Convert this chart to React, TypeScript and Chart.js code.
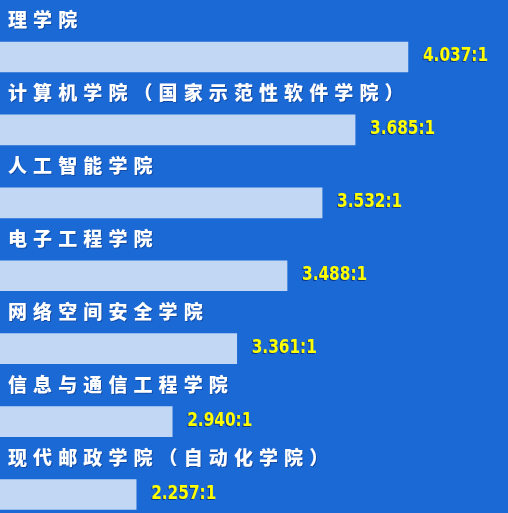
import React, { useEffect, useRef } from "react";
import { Chart, registerables } from "chart.js";

Chart.register(...registerables);

const colleges = [
  "理学院",
  "计算机学院（国家示范性软件学院）",
  "人工智能学院",
  "电子工程学院",
  "网络空间安全学院",
  "信息与通信工程学院",
  "现代邮政学院（自动化学院）",
];
// bar lengths as drawn (percent of chart width)
const barLengths = [80.3, 69.9, 63.4, 56.5, 46.6, 33.9, 26.8];
const ratioLabels = ["4.037:1", "3.685:1", "3.532:1", "3.488:1", "3.361:1", "2.940:1", "2.257:1"];

const BG = "#1b69d5";
const BAR = "#c2d7f3";

const labelPlugin = {
  id: "collegeLabels",
  afterDatasetsDraw(chart: any) {
    const ctx = chart.ctx as CanvasRenderingContext2D;
    const meta = chart.getDatasetMeta(0);
    meta.data.forEach((bar: any, i: number) => {
      const y = bar.y;
      ctx.save();
      // category name above bar
      ctx.font = "900 19px 'Noto Sans CJK SC', sans-serif";
      (ctx as any).letterSpacing = "6.1px";
      ctx.textBaseline = "middle";
      ctx.textAlign = "left";
      ctx.shadowColor = "rgba(0,20,80,0.35)";
      ctx.shadowOffsetX = 1;
      ctx.shadowOffsetY = 1;
      ctx.shadowBlur = 0;
      ctx.fillStyle = "#ffffff";
      ctx.fillText(colleges[i], 8, y - 37);
      ctx.restore();
      // ratio label right of bar (condensed)
      ctx.save();
      (ctx as any).letterSpacing = "0px";
      ctx.font = "bold 20px 'DejaVu Sans Condensed', 'DejaVu Sans', sans-serif";
      ctx.textBaseline = "middle";
      ctx.textAlign = "left";
      ctx.shadowColor = "rgba(0,20,90,0.6)";
      ctx.shadowOffsetX = -1;
      ctx.shadowOffsetY = 1;
      ctx.shadowBlur = 0;
      ctx.fillStyle = "#ffff00";
      ctx.translate(bar.x + 15, y - 1);
      ctx.scale(0.85, 1);
      ctx.fillText(ratioLabels[i], 0, 0);
      ctx.restore();
    });
  },
};

export default function App() {
  const ref = useRef<HTMLCanvasElement | null>(null);
  useEffect(() => {
    if (!ref.current) return;
    const chart = new Chart(ref.current, {
      type: "bar",
      data: {
        labels: colleges,
        datasets: [
          {
            data: barLengths,
            backgroundColor: BAR,
            borderWidth: 0,
            barThickness: 30,
          },
        ],
      },
      options: {
        indexAxis: "y",
        animation: false,
        responsive: false,
        maintainAspectRatio: false,
        layout: { padding: { top: 20.5, left: 0, right: 0, bottom: 0 } },
        plugins: { legend: { display: false }, tooltip: { enabled: false } },
        scales: {
          x: { display: false, min: 0, max: 100 },
          y: { display: false },
        },
      },
      plugins: [labelPlugin],
    });
    return () => chart.destroy();
  }, []);
  return (
    <div
      style={{
        position: "fixed",
        left: 0,
        top: 0,
        width: 508,
        height: 513,
        overflow: "hidden",
        background: BG,
      }}
    >
      <canvas ref={ref} width={508} height={531} style={{ display: "block" }} />
    </div>
  );
}
